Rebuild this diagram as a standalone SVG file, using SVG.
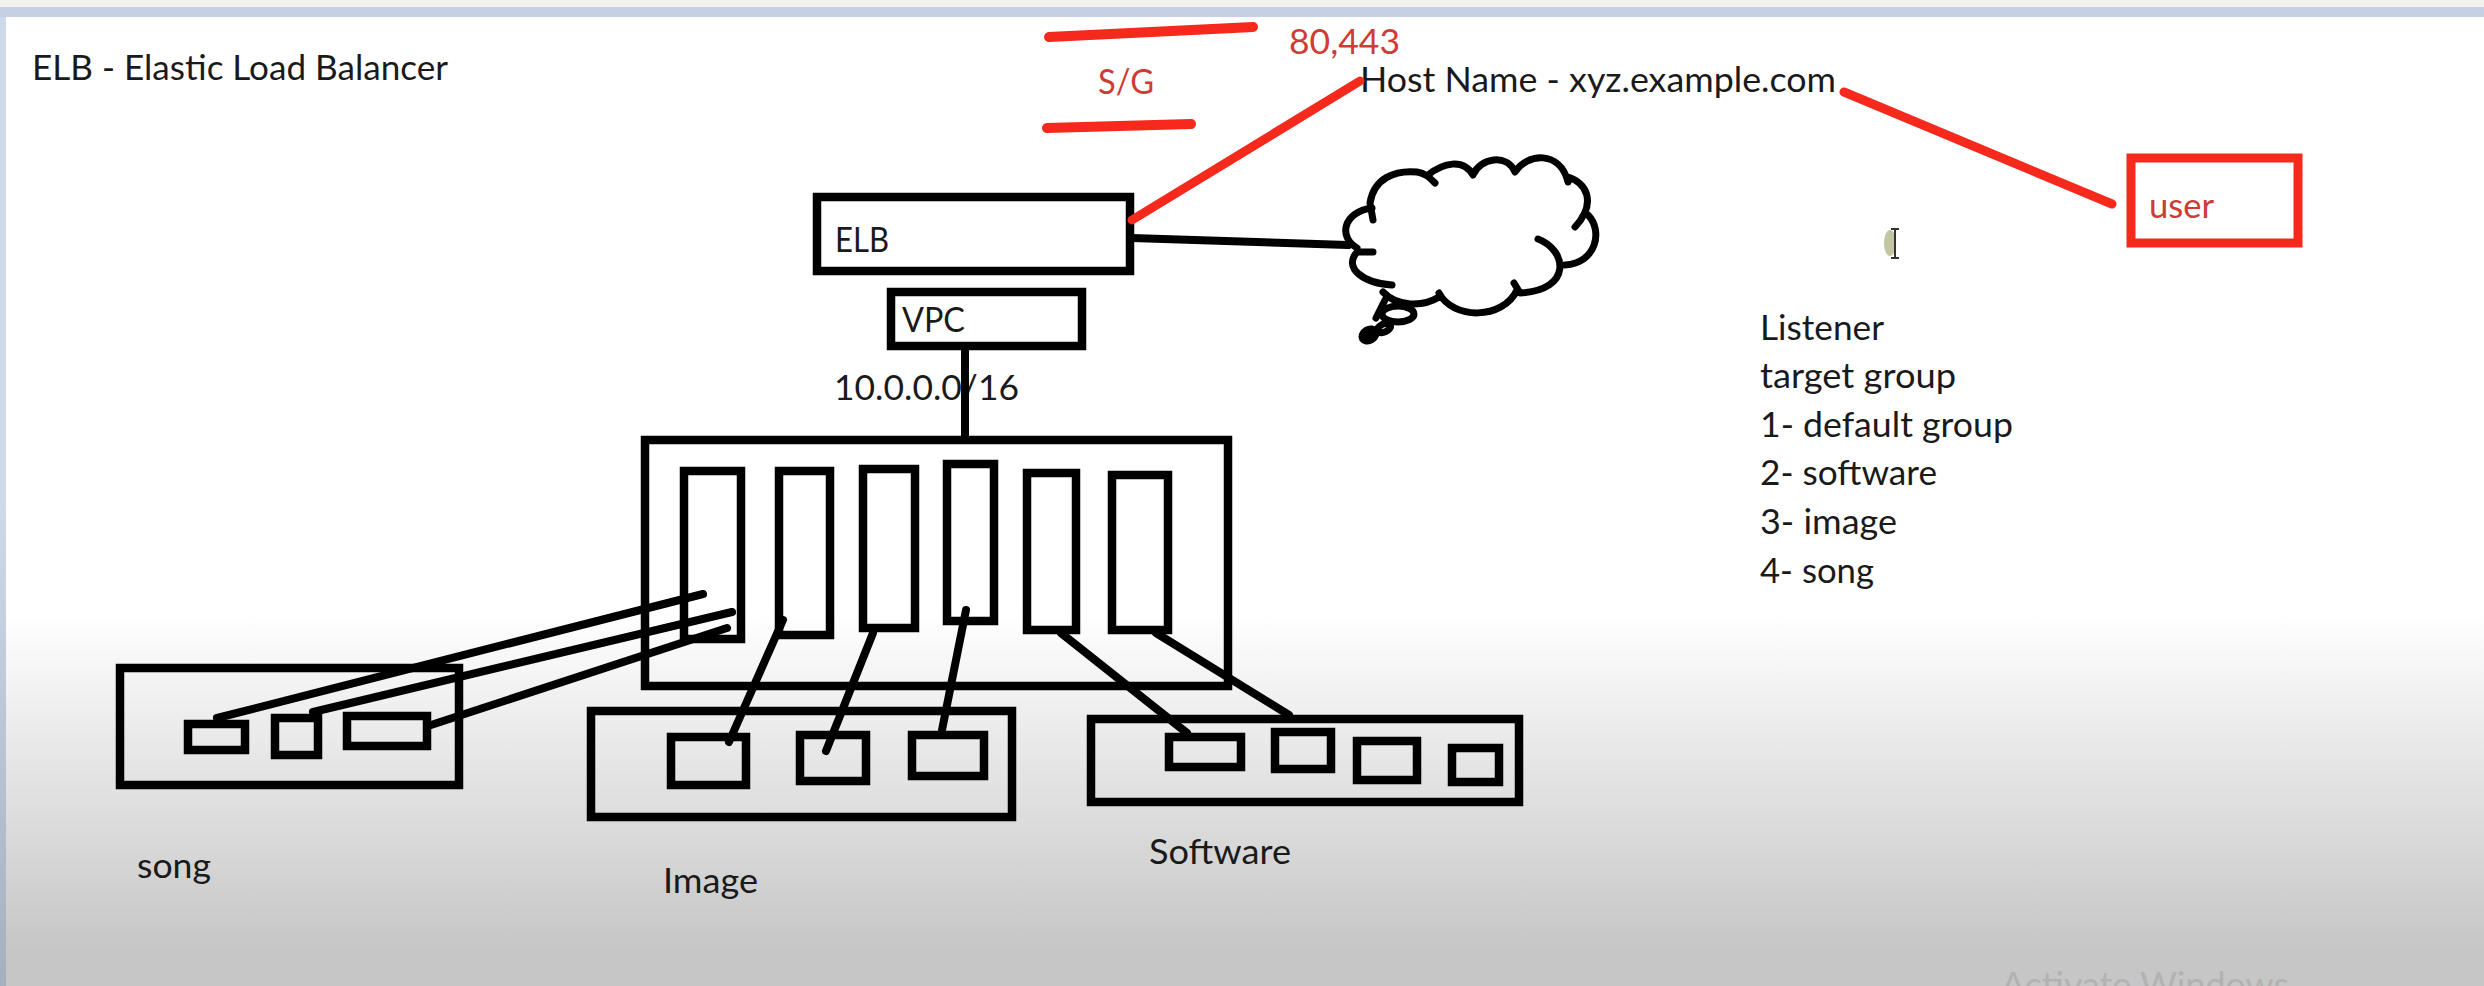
<svg xmlns="http://www.w3.org/2000/svg" width="2484" height="986" viewBox="0 0 2484 986">
<style>
text{font-family:Lato,"Liberation Sans",sans-serif;font-size:34px;fill:#1a1a1a}
text.r{fill:#cf3b35}
.b{fill:none;stroke:#000;stroke-width:8.5}
.rb{fill:none;stroke:#f5291c;stroke-width:9}
.c{fill:none;stroke:#000;stroke-width:8;stroke-linecap:round}
.rc{fill:none;stroke:#f5291c;stroke-width:9;stroke-linecap:round}
.cl{fill:none;stroke:#000;stroke-width:7;stroke-linejoin:round;stroke-linecap:round}
</style>
<defs>
<linearGradient id="bg" x1="0" y1="0" x2="0" y2="1"><stop offset="0.62" stop-color="#fff"/><stop offset="0.965" stop-color="#c6c6c6"/></linearGradient>
<linearGradient id="edge" x1="0" y1="0" x2="0" y2="1"><stop offset="0.5" stop-color="#ccdaec"/><stop offset="1" stop-color="#a4b0be"/></linearGradient>
</defs>
<rect width="2484" height="986" fill="url(#bg)"/>
<rect width="2484" height="7" fill="#f1f1f0"/>
<rect y="7" width="2484" height="10" fill="#c5d1e3"/>
<rect y="17" width="6" height="969" fill="url(#edge)"/>
<g id="title"><text x="32" y="80" textLength="416" lengthAdjust="spacingAndGlyphs">ELB - Elastic Load Balancer</text></g>
<g id="sg"><path class="rc" style="stroke-width:10" d="M1049 37 1253 27M1047 128 1191 124"/><text class="r" x="1098" y="94" textLength="56" lengthAdjust="spacingAndGlyphs">S/G</text></g>
<g id="ports"><text class="r" x="1289" y="54" textLength="111" lengthAdjust="spacingAndGlyphs">80,443</text></g>
<g id="host"><text x="1360" y="92" textLength="476" lengthAdjust="spacingAndGlyphs">Host Name - xyz.example.com</text></g>
<g id="user"><rect class="rb" x="2131" y="158" width="167" height="85"/><text class="r" x="2149" y="218" textLength="65" lengthAdjust="spacingAndGlyphs">user</text></g>
<g id="elb"><rect class="b" x="817" y="197" width="313" height="74"/><text x="835" y="252" textLength="54" lengthAdjust="spacingAndGlyphs">ELB</text></g>
<g id="vpc"><rect class="b" x="891" y="292" width="191" height="54"/><text x="902" y="332" textLength="63" lengthAdjust="spacingAndGlyphs">VPC</text></g>
<g id="cidr"><text x="834" y="400" textLength="185" lengthAdjust="spacingAndGlyphs">10.0.0.0/16</text></g>
<g id="cloud">
<path class="cl" d="M1373 220L1370 203C1374 178 1395 170 1417 172C1425 173 1430 178 1435 183M1428 175C1443 163 1463 158 1473 175C1480 158 1507 153 1515 172C1527 153 1560 150 1568 182M1567 177C1587 182 1597 203 1575 227M1588 215C1603 230 1597 263 1565 265M1538 239C1567 250 1573 290 1520 293L1514 283M1517 290C1503 320 1453 320 1439 293M1439 297C1423 307 1397 307 1383 292M1392 285C1363 283 1343 268 1357 252L1373 252M1357 248C1338 237 1343 212 1372 208"/>
<ellipse class="cl" cx="1398" cy="314" rx="16" ry="8"/>
<ellipse class="cl" cx="1384" cy="328" rx="7" ry="4" transform="rotate(-25 1384 328)"/>
<path class="cl" d="M1385 300 1376 318"/>
<ellipse cx="1369" cy="335" rx="11" ry="9" transform="rotate(-30 1369 335)"/>
</g>
<g id="subnets">
<rect class="b" x="645" y="440" width="583" height="246"/>
<rect class="b" x="684" y="471" width="57" height="168"/>
<rect class="b" x="779" y="471" width="51" height="164"/>
<rect class="b" x="863" y="469" width="52" height="159"/>
<rect class="b" x="947" y="464" width="47" height="157"/>
<rect class="b" x="1027" y="473" width="49" height="157"/>
<rect class="b" x="1112" y="475" width="56" height="155"/>
</g>
<g id="song">
<rect class="b" x="120" y="668" width="339" height="117"/>
<rect class="b" x="188" y="724" width="57" height="26"/>
<rect class="b" x="275" y="718" width="43" height="37"/>
<rect class="b" x="347" y="716" width="80" height="30"/>
<text x="137" y="878" textLength="74" lengthAdjust="spacingAndGlyphs">song</text>
</g>
<g id="image">
<rect class="b" x="591" y="711" width="421" height="106"/>
<rect class="b" x="671" y="737" width="75" height="48"/>
<rect class="b" x="800" y="735" width="66" height="46"/>
<rect class="b" x="912" y="735" width="72" height="41"/>
<text x="663" y="893" textLength="95" lengthAdjust="spacingAndGlyphs">Image</text>
</g>
<g id="software">
<rect class="b" x="1091" y="719" width="428" height="83"/>
<rect class="b" x="1169" y="737" width="72" height="30"/>
<rect class="b" x="1275" y="732" width="56" height="37"/>
<rect class="b" x="1357" y="741" width="60" height="39"/>
<rect class="b" x="1452" y="748" width="47" height="34"/>
<text x="1149" y="864" textLength="142" lengthAdjust="spacingAndGlyphs">Software</text>
</g>
<g id="targets">
<text x="1760" y="340" textLength="124" lengthAdjust="spacingAndGlyphs">Listener</text>
<text x="1760" y="388" textLength="196" lengthAdjust="spacingAndGlyphs">target group</text>
<text x="1760" y="437" textLength="253" lengthAdjust="spacingAndGlyphs">1- default group</text>
<text x="1760" y="485" textLength="177" lengthAdjust="spacingAndGlyphs">2- software</text>
<text x="1760" y="534" textLength="137" lengthAdjust="spacingAndGlyphs">3- image</text>
<text x="1760" y="583" textLength="114" lengthAdjust="spacingAndGlyphs">4- song</text>
</g>
<g id="connectors">
<path class="rc" d="M1132 220 1360 81M1844 92 2112 204"/>
<path class="c" d="M1132 238 1348 245M965 350V436"/>
<path class="c" d="M217 718 703 594M313 712 732 612M431 725 727 628"/>
<path class="c" d="M783 620 729 742M873 633 826 751M966 610 942 730"/>
<path class="c" d="M1061 633 1187 733M1156 633 1289 715"/>
</g>
<g id="cursor">
<ellipse cx="1890" cy="243" rx="6" ry="13" fill="#c4c5a4"/>
<path d="M1891 229h8M1895 229v29M1891 258h8" fill="none" stroke="#333" stroke-width="2"/>
</g>
<g id="watermark"><text x="2001" y="998" style="font-size:36px;fill:#b2b2b2" textLength="288" lengthAdjust="spacingAndGlyphs">Activate Windows</text></g>
</svg>
